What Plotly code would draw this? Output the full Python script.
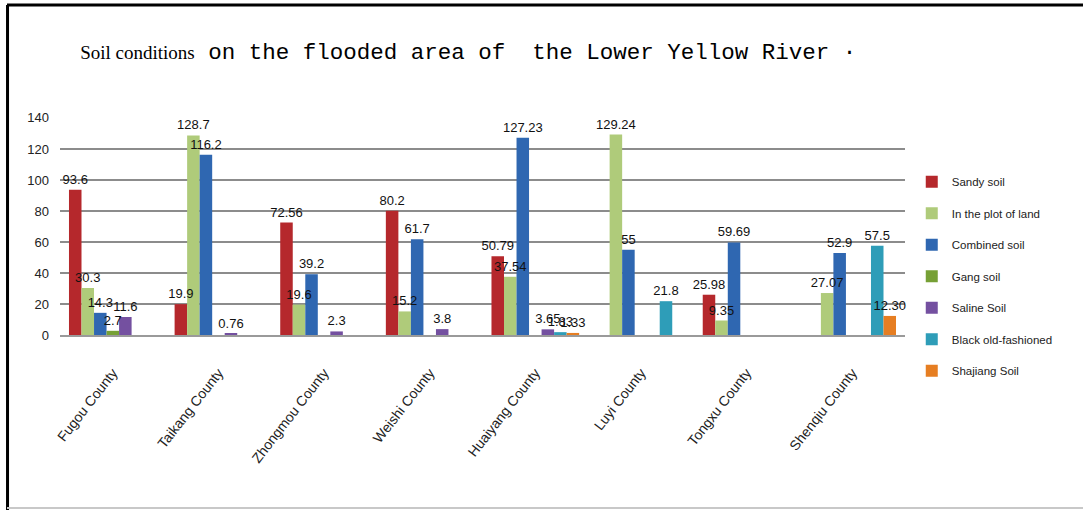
import plotly.graph_objects as go

counties = ["Fugou County", "Taikang County", "Zhongmou County", "Weishi County",
            "Huaiyang County", "Luyi County", "Tongxu County", "Shenqiu County"]

sandy_soil = [93.6, 19.9, 72.56, 80.2, 50.79, None, 25.98, None]
plot_of_land = [30.3, 128.7, 19.6, 15.2, 37.54, 129.24, 9.35, 27.07]
combined_soil = [14.3, 116.2, 39.2, 61.7, 127.23, 55, 59.69, 52.9]
gang_soil = [2.7, None, None, None, None, None, None, None]
saline_soil = [11.6, 0.76, 2.3, 3.8, 3.65, None, None, None]
black_old = [None, None, None, None, 1.83, 21.8, None, 57.5]
shajiang_soil = [None, None, None, None, 1.33, None, None, 12.30]

labels_fmt = {
    "sandy": ["93.6", "19.9", "72.56", "80.2", "50.79", "", "25.98", ""],
    "plot": ["30.3", "128.7", "19.6", "15.2", "37.54", "129.24", "9.35", "27.07"],
    "comb": ["14.3", "116.2", "39.2", "61.7", "127.23", "55", "59.69", "52.9"],
    "gang": ["2.7", "", "", "", "", "", "", ""],
    "sal": ["11.6", "0.76", "2.3", "3.8", "3.65", "", "", ""],
    "black": ["", "", "", "", "1.83", "21.8", "", "57.5"],
    "sha": ["", "", "", "", "1.33", "", "", "12.30"],
}

series = [
    ("Sandy soil", sandy_soil, "#B5282C", labels_fmt["sandy"]),
    ("In the plot of land", plot_of_land, "#AFCB7A", labels_fmt["plot"]),
    ("Combined soil", combined_soil, "#2F67B1", labels_fmt["comb"]),
    ("Gang soil", gang_soil, "#76A035", labels_fmt["gang"]),
    ("Saline Soil", saline_soil, "#7450A0", labels_fmt["sal"]),
    ("Black old-fashioned", black_old, "#2E9DB8", labels_fmt["black"]),
    ("Shajiang Soil", shajiang_soil, "#E67E22", labels_fmt["sha"]),
]

fig = go.Figure()
# bars
for i, (name, vals, color, txt) in enumerate(series):
    fig.add_trace(go.Bar(
        name=name, x=counties, y=vals, marker_color=color,
        marker_line_width=0, offsetgroup=str(i), legendgroup=f"g{i}",
    ))
# data labels drawn on top of all bars (transparent twin bars in the same slot)
for i, (name, vals, color, txt) in enumerate(series):
    fig.add_trace(go.Bar(
        name=name, x=counties, y=vals, marker_color="rgba(0,0,0,0)",
        marker_line_width=0, offsetgroup=str(i), showlegend=False, hoverinfo="skip",
        text=txt, textposition="outside", constraintext="none",
        textfont=dict(size=13, color="#111111", family="Liberation Sans"),
        cliponaxis=False,
    ))

fig.update_layout(
    width=1083, height=510,
    paper_bgcolor="white", plot_bgcolor="white",
    barmode="group", bargap=0.17, bargroupgap=0,
    margin=dict(l=60, r=178, t=117, b=175),
    title=dict(
        text='<span style="font-family:Liberation Serif;font-size:19px">Soil conditions</span> on the flooded area of  the Lower Yellow River ·',
        font=dict(family="Liberation Mono", size=22.5, color="black"),
        x=0.074, xanchor="left", y=0.9, yanchor="middle",
    ),
    font=dict(family="Liberation Sans", size=11, color="#222222"),
    legend=dict(
        x=1.008, xanchor="left", y=0.77, yanchor="top",
        font=dict(size=11.5, color="#222222"),
        tracegroupgap=12.5, traceorder="grouped",
        itemwidth=30, maxheight=500,
    ),
    xaxis=dict(
        tickangle=-52, showline=True, linecolor="#9a9a9a", linewidth=2,
        tickfont=dict(size=14, color="#222222"), ticks="",
        ticklabelstandoff=22,
    ),
    yaxis=dict(
        range=[0, 140.6], tickvals=[0, 20, 40, 60, 80, 100, 120, 140],
        showgrid=True, gridcolor="#8c8c8c", gridwidth=2,
        zeroline=False, tickfont=dict(size=13, color="#222222"), ticks="",
        ticklabelstandoff=10,
    ),
    shapes=[
        dict(type="line", xref="paper", yref="paper",
             x0=-0.0627, x1=1.2107, y0=1.5138, y1=1.5138,
             line=dict(color="black", width=3)),
        dict(type="line", xref="paper", yref="paper",
             x0=-0.0621, x1=-0.0621, y0=1.5138, y1=-0.8028,
             line=dict(color="black", width=3)),
        dict(type="line", xref="paper", yref="paper",
             x0=-0.0627, x1=1.2107, y0=-0.7936, y1=-0.7936,
             line=dict(color="#c8c8c8", width=2)),
    ],
)

fig.write_html("out.html")
